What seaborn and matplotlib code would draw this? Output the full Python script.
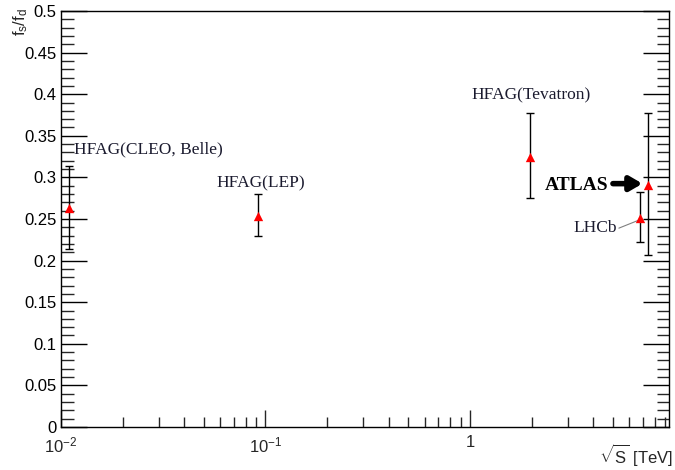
import numpy as np
import pandas as pd
import matplotlib
matplotlib.use("Agg")
import matplotlib.pyplot as plt
import matplotlib.ticker as mticker
import seaborn as sns

# Data
labels = ["HFAG(CLEO, Belle)", "HFAG(LEP)", "HFAG(Tevatron)", "LHCb", "ATLAS"]
sqrt_s = [0.011, 0.0922, 1.96, 6.8, 7.45]
fs_fd = [0.263, 0.254, 0.325, 0.251, 0.291]
err_low = [0.049, 0.025, 0.050, 0.029, 0.084]
err_high = [0.051, 0.026, 0.053, 0.032, 0.086]
x_tick_vals = [0.01, 0.1, 1]
x_tick_labels = [r"$10^{-2}$", r"$10^{-1}$", "1"]

df = pd.DataFrame({"label": labels, "x": sqrt_s, "y": fs_fd,
                   "lo": err_low, "hi": err_high})

sns.set_theme(style="white")
plt.rcParams["font.family"] = ["Liberation Sans", "DejaVu Sans"]
plt.rcParams["mathtext.fontset"] = "custom"
plt.rcParams["mathtext.rm"] = "Liberation Sans"
plt.rcParams["mathtext.it"] = "Liberation Sans"

fig = plt.figure(figsize=(6.75, 4.7), dpi=100)
ax = fig.add_axes([0.0904, 0.0915, 0.9006, 0.8851])

ax.errorbar(df["x"], df["y"], yerr=[df["lo"], df["hi"]], fmt="none",
            ecolor="black", elinewidth=1.0, capsize=3, capthick=1.0, zorder=2)
sns.scatterplot(data=df, x="x", y="y", marker="^", color="red", s=45,
                edgecolor="red", linewidth=0, ax=ax, zorder=3, legend=False)

ax.set_xscale("log")
ax.set_xlim(0.01, 9.4)
ax.set_ylim(0, 0.5)

ax.xaxis.set_major_locator(mticker.FixedLocator(x_tick_vals))
ax.xaxis.set_major_formatter(mticker.FixedFormatter(x_tick_labels))
ax.xaxis.set_minor_locator(mticker.LogLocator(base=10, subs=np.arange(2, 10)))
ax.xaxis.set_minor_formatter(mticker.NullFormatter())
ax.yaxis.set_major_locator(mticker.MultipleLocator(0.05))
ax.yaxis.set_minor_locator(mticker.MultipleLocator(0.01))
ax.yaxis.set_major_formatter(mticker.FuncFormatter(lambda v, p: ("%g" % round(v, 2))))

ax.tick_params(axis="y", which="major", direction="in", length=19, width=1,
               left=True, right=True, labelsize=12, pad=3, colors="black")
ax.tick_params(axis="y", which="minor", direction="in", length=9, width=1,
               left=True, right=True)
ax.tick_params(axis="x", which="major", direction="in", length=12, width=1,
               bottom=True, top=False, labelsize=12, pad=6)
ax.tick_params(axis="x", which="minor", direction="in", length=7, width=1,
               bottom=True, top=False)

for sp in ax.spines.values():
    sp.set_color("black")
    sp.set_linewidth(1.0)

ax.set_xlabel("")
ax.set_ylabel("")
fig.text(0.997, 0.005, r"$\sqrt{S}$ [TeV]", ha="right", va="bottom", fontsize=12)
fig.text(0.016, 0.982, r"$f_{s}/f_{d}$", ha="left", va="top", rotation=90, fontsize=12)

serif = ["Liberation Serif", "DejaVu Serif"]
tc = "#1a1a2e"
ax.text(0.0116, 0.334, "HFAG(CLEO, Belle)", family=serif, fontsize=12.5,
        ha="left", va="center", color=tc)
ax.text(0.0945, 0.293, "HFAG(LEP)", family=serif, fontsize=12.5,
        ha="center", va="center", color=tc)
ax.text(1.98, 0.398, "HFAG(Tevatron)", family=serif, fontsize=12.5,
        ha="center", va="center", color=tc)
ax.text(4.75, 0.290, "ATLAS", family=serif, fontsize=14, fontweight="bold",
        ha="right", va="center", color="black")
ax.annotate("", xy=(7.2, 0.2925), xytext=(4.85, 0.2925),
            arrowprops=dict(arrowstyle="-|>,head_length=0.6,head_width=0.35",
                            color="black", lw=4))
ax.text(5.25, 0.239, "LHCb", family=serif, fontsize=12.5,
        ha="right", va="center", color=tc)
ax.plot([5.35, 6.6], [0.239, 0.248], color="gray", lw=0.8)

fig.savefig("out.png", dpi=100)
